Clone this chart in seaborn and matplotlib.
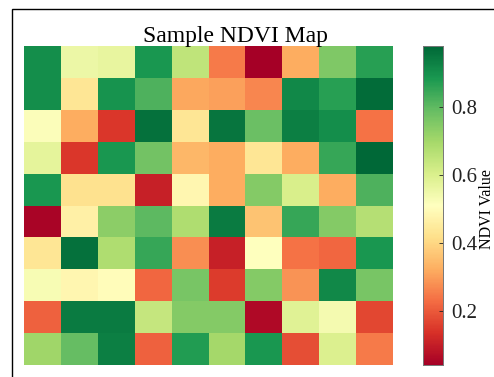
import numpy as np
import matplotlib
matplotlib.use("Agg")
import matplotlib.pyplot as plt
from matplotlib.patches import Rectangle
import seaborn as sns

# NDVI values, one list per row (top to bottom)
row_0 = [0.905, 0.557, 0.566, 0.886, 0.651, 0.247, 0.040, 0.322, 0.754, 0.867]
row_1 = [0.905, 0.435, 0.895, 0.820, 0.313, 0.303, 0.266, 0.914, 0.867, 0.971]
row_2 = [0.519, 0.322, 0.143, 0.961, 0.435, 0.952, 0.783, 0.933, 0.905, 0.237]
row_3 = [0.576, 0.143, 0.886, 0.773, 0.341, 0.322, 0.435, 0.322, 0.848, 0.980]
row_4 = [0.886, 0.425, 0.425, 0.106, 0.482, 0.322, 0.745, 0.604, 0.322, 0.820]
row_5 = [0.049, 0.463, 0.736, 0.801, 0.679, 0.942, 0.360, 0.848, 0.745, 0.670]
row_6 = [0.435, 0.961, 0.679, 0.848, 0.275, 0.106, 0.510, 0.237, 0.219, 0.886]
row_7 = [0.529, 0.482, 0.501, 0.219, 0.764, 0.153, 0.745, 0.284, 0.914, 0.764]
row_8 = [0.209, 0.942, 0.942, 0.642, 0.745, 0.745, 0.059, 0.585, 0.538, 0.172]
row_9 = [0.707, 0.792, 0.933, 0.209, 0.877, 0.698, 0.886, 0.181, 0.595, 0.247]

ndvi = np.array([row_0, row_1, row_2, row_3, row_4,
                 row_5, row_6, row_7, row_8, row_9])

plt.rcParams['font.family'] = ['Liberation Serif', 'DejaVu Serif']

fig = plt.figure(figsize=(4.94, 3.77), dpi=100)
ax = fig.add_axes([0.0486, 0.0318, 0.747, 0.846])
cax = fig.add_axes([0.856, 0.0318, 0.0405, 0.846])

sns.heatmap(ndvi, cmap='RdYlGn', ax=ax, cbar_ax=cax,
            xticklabels=False, yticklabels=False)

ax.set_xticks([])
ax.set_yticks([])

# colorbar styling
cax.set_yticks([0.2, 0.4, 0.6, 0.8])
cax.tick_params(direction='in', length=3, width=0.6, labelsize=15, pad=6, colors='#222222')
cax.set_ylabel('NDVI Value', fontsize=11.5)
cax.yaxis.set_label_coords(2.8, 0.49)
for sp in cax.spines.values():
    sp.set_visible(True)
    sp.set_edgecolor('#777777')
    sp.set_linewidth(0.6)

fig.text(0.476, 0.889, 'Sample NDVI Map', ha='center', va='baseline', fontsize=17)

# thin frame that runs off the right and bottom edge
fig.patches.append(Rectangle((0.0243, -0.1), 1.2, 1.076, transform=fig.transFigure,
                             fill=False, edgecolor='black', linewidth=1.0, clip_on=False))

plt.savefig('out.png', dpi=100)
plt.close()
